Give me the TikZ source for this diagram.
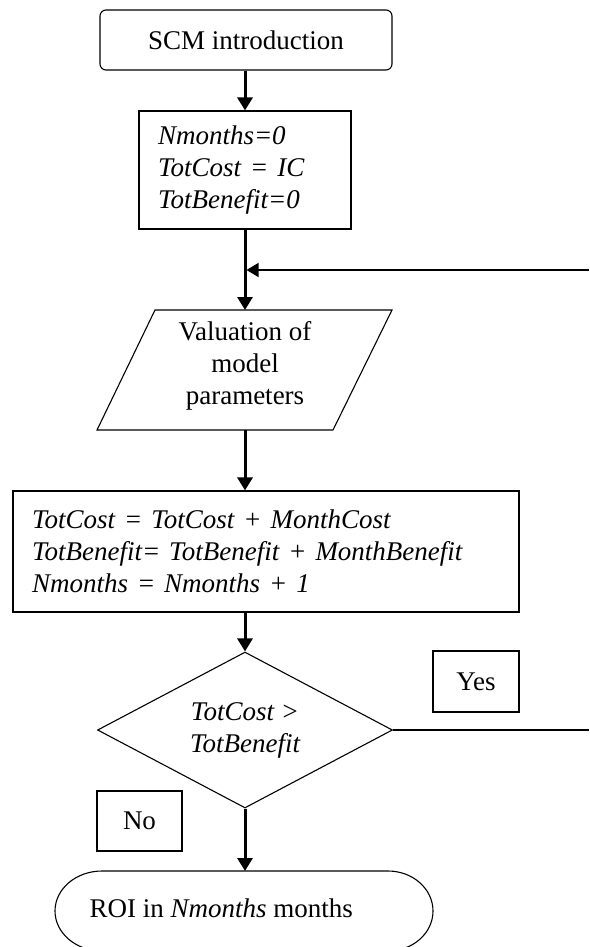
\documentclass[tikz,border=0pt]{standalone}
\usepackage{fontspec}
\setmainfont{Liberation Serif}
\usetikzlibrary{shapes.geometric,arrows.meta}
\begin{document}
\begin{tikzpicture}[x=1pt,y=-1pt,
  every node/.style={font=\fontsize{27}{32}\selectfont},
  shapeline/.style={draw=black,line width=1.1pt},
  flowbox/.style={shapeline,rectangle,inner sep=0pt},
  thickarrow/.style={line width=3pt,-{Triangle[width=15pt,length=13pt]}},
  thinarrow/.style={line width=1.5pt,-{Triangle[width=14pt,length=12pt]}},
  thinline/.style={line width=1.5pt}]
\useasboundingbox (0,0) rectangle (589,947);
\clip (0,0) rectangle (589,947);

% start
\node[flowbox,rounded corners=6pt,minimum width=292pt,minimum height=60pt] (scm) at (246,40) {SCM introduction};

% init box
\node[flowbox,minimum width=212pt,minimum height=118pt,text width=174pt,align=left] (init) at (245,170)
  {\itshape Nmonths=0\\TotCost = IC\\TotBenefit=0};

% parallelogram
\draw[shapeline] (155,310) -- (392,310) -- (333,430) -- (97,430) -- cycle;
\coordinate (vtop) at (245,310);
\coordinate (vbot) at (245,430);
\node[align=center] (val) at (245,366) {Valuation of\\model\\parameters};

% update box
\node[flowbox,minimum width=506pt,minimum height=121pt,text width=468pt,align=left] (upd) at (266,551.5)
  {\itshape TotCost = TotCost + MonthCost\\TotBenefit= TotBenefit + MonthBenefit\\Nmonths = Nmonths + 1};

% decision
\node[shapeline,diamond,aspect=1.89,inner sep=0pt,minimum width=295pt,minimum height=156pt,align=center] (dec) at (245,730)
  {\itshape TotCost >\\\itshape TotBenefit};

% yes / no labels
\node[flowbox,minimum width=86pt,minimum height=61pt] (yes) at (476,681.5) {Yes};
\node[flowbox,minimum width=85pt,minimum height=60pt] (no) at (139.5,821) {No};

% terminal
\draw[shapeline] (102,871) -- (388,871)
  arc[start angle=-90,end angle=90,x radius=45,y radius=40]
  -- (102,951)
  arc[start angle=90,end angle=270,x radius=47,y radius=40] -- cycle;
\coordinate (ttop) at (245,871);
\node[anchor=west] (roi) at (86,908) {ROI in \textit{Nmonths} months};

% feedback coordinates
\coordinate (fbR) at (589,270);
\coordinate (fbJ) at (246.5,270);
\coordinate (yesR) at (589,730);

% connectors
\draw[thickarrow] (scm.south -| init.north) -- (init.north);
\draw[thickarrow] (init.south) -- (vtop);
\draw[thinarrow] (fbR) -- (fbJ);
\draw[thickarrow] (vbot) -- (upd.north -| vbot);
\draw[thickarrow] (upd.south -| vbot) -- (dec.north);
\draw[thickarrow] (dec.south) -- (ttop);
\draw[thinline] (dec.east) -- (yesR);
\end{tikzpicture}
\end{document}
